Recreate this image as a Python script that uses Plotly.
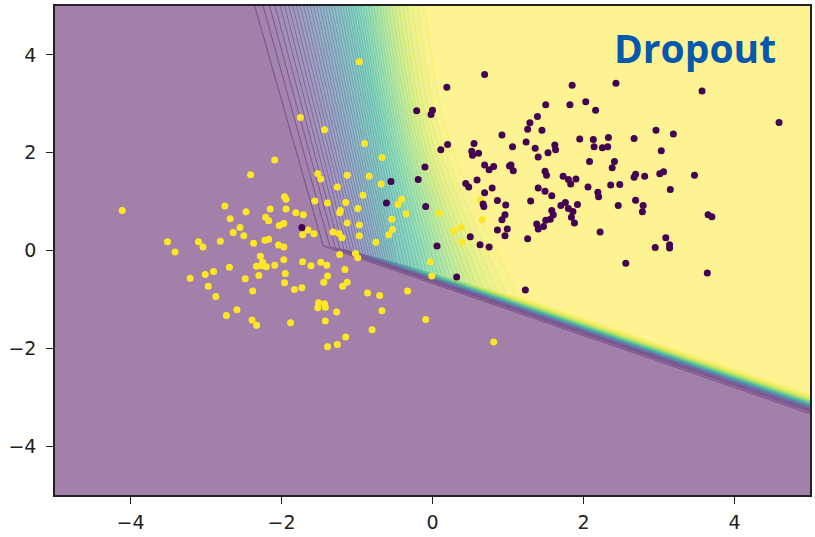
import numpy as np
import plotly.graph_objects as go

# ---------------- data ----------------
yellow_x = [-2.09, -2.41, -4.11, -2.75, -2.47, -2.15, -2.68, -2.21, -2.17, -2.03, -2.55, -2.64, -2.50,
            -3.51, -3.10, -3.04, -2.81, -2.37, -2.22, -2.17, -2.04, -3.41, -2.28, -2.33, -2.26, -2.20,
            -2.25, -2.09, -2.69, -2.90, -3.01, -3.21, -2.48, -2.30, -2.97, -2.38, -2.87, -2.59, -2.73,
            -2.39, -2.33, -0.97, -1.75, -1.43, -0.90, -0.67, -1.52, -1.48, -1.13, -0.84, -1.26, -0.68,
            -0.92, -1.96, -1.94, -1.56, -1.39, -1.15, -0.99, -1.22, -1.23, -1.94, -1.81, -1.71, -1.97,
            -1.13, -0.97, -1.32, -1.24, -1.20, -1.72, -1.65, -1.57, -0.97, -0.75, -1.97, -1.23, -1.02,
            -0.99, -1.97, -1.72, -1.61, -1.48, -1.40, -1.16, -1.95, -1.39, -1.44, -1.96, -1.73, -1.83,
            -1.13, -1.19, -0.86, -0.70, -0.33, -1.51, -1.43, -1.52, -1.42, -1.27, -0.67, -1.88, -1.42,
            -0.09, -0.80, -1.15, -1.39, -1.26, -0.46, -0.41, -0.35, -0.54, -0.53, -0.58, 0.09, -0.03,
            -0.01, 0.63, 0.66, 0.28, 0.38, 0.39, 0.81]
yellow_y = [1.85, 1.55, 0.82, 0.91, 0.79, 0.85, 0.65, 0.68, 0.61, 0.51, 0.47, 0.37, 0.30,
            0.18, 0.18, 0.07, 0.19, 0.15, 0.21, 0.23, 0.11, -0.03, -0.12, -0.32, -0.31, -0.33,
            -0.24, -0.30, -0.34, -0.43, -0.49, -0.57, -0.58, -0.51, -0.73, -0.83, -0.94, -1.21, -1.33,
            -1.42, -1.53, 3.86, 2.72, 2.47, 2.19, 1.90, 1.57, 1.46, 1.54, 1.52, 1.30, 1.36,
            1.13, 1.10, 1.05, 1.01, 0.97, 0.98, 0.86, 0.82, 0.77, 0.85, 0.77, 0.73, 0.55,
            0.56, 0.52, 0.38, 0.35, 0.26, 0.32, 0.42, 0.34, 0.30, 0.17, 0.07, -0.08, -0.06,
            -0.15, -0.19, -0.23, -0.31, -0.24, -0.30, -0.39, -0.47, -0.52, -0.65, -0.66, -0.76, -0.80,
            -0.65, -0.73, -0.87, -0.92, -0.83, -1.07, -1.09, -1.17, -1.16, -1.26, -1.23, -1.48, -1.44,
            -1.41, -1.62, -1.77, -1.97, -1.92, 0.94, 1.05, 0.75, 0.64, 0.43, 0.32, 0.76, -0.23,
            -0.52, 1.04, 0.63, 0.40, 0.47, 0.17, -1.87]

purple_x = [0.19, -0.21, 0.00, -0.02, 0.11, 0.20, -0.10, -0.19, -0.55, -0.61, -0.09, -1.73, 0.06,
            0.69, 0.92, 0.55, 0.52, 0.53, 0.61, 0.69, 0.75, 0.81, 1.02, 0.44, 0.48, 0.59, 0.79,
            0.69, 0.86, 0.97, 0.67, 0.68, 0.96, 0.92, 0.86, 0.99, 0.96, 0.50, 0.63, 0.75, 0.32,
            1.85, 2.43, 1.50, 1.82, 2.03, 2.16, 1.39, 1.29, 1.26, 1.45, 1.24, 1.06, 1.36, 1.62,
            1.63, 1.53, 1.95, 2.13, 2.14, 2.25, 2.32, 2.33, 2.67, 1.40, 2.08, 1.04, 1.07, 1.49,
            1.51, 2.41, 2.38, 1.73, 1.80, 1.83, 1.90, 2.69, 2.67, 2.81, 1.40, 1.49, 1.58, 2.06,
            2.19, 2.20, 2.36, 2.48, 1.30, 1.70, 1.76, 1.80, 1.92, 1.58, 1.60, 1.86, 1.84, 1.50,
            1.56, 1.38, 1.47, 1.40, 1.88, 2.69, 2.46, 2.79, 2.78, 1.26, 2.22, 2.56, 1.23,
            3.57, 4.59, 2.96, 3.19, 3.03, 3.01, 3.06, 3.47, 3.15, 3.65, 3.70, 3.09, 2.95, 3.14,
            3.14, 3.64]
purple_y = [3.34, 2.86, 2.87, 2.78, 2.06, 2.17, 1.71, 1.45, 1.41, 0.97, 0.90, 0.47, 0.09,
            3.60, 2.36, 2.19, 2.03, 1.95, 1.99, 1.75, 1.65, 1.72, 1.73, 1.37, 1.30, 1.44, 1.28,
            1.18, 1.02, 0.93, 0.95, 0.90, 0.73, 0.63, 0.42, 0.44, 0.30, 0.28, 0.12, 0.07, -0.54,
            3.38, 3.42, 2.98, 2.98, 3.04, 2.87, 2.74, 2.61, 2.48, 2.46, 2.22, 2.12, 2.09, 2.16,
            2.06, 2.00, 2.28, 2.27, 2.12, 2.10, 2.12, 2.31, 2.29, 1.91, 1.82, 1.75, 1.63, 1.62,
            1.54, 1.82, 1.69, 1.52, 1.45, 1.36, 1.46, 1.56, 1.50, 1.52, 1.28, 1.21, 1.12, 1.30,
            1.19, 1.10, 1.34, 1.35, 1.01, 0.92, 0.98, 0.86, 0.94, 0.82, 0.73, 0.80, 0.68, 0.62,
            0.64, 0.54, 0.49, 0.44, 0.56, 1.03, 0.92, 0.92, 0.79, 0.24, 0.38, -0.26, -0.81,
            3.26, 2.62, 2.46, 2.38, 2.04, 1.57, 1.61, 1.54, 1.25, 0.73, 0.69, 0.26, 0.06, 0.12,
            0.05, -0.46]

tick_vals = [-4, -2, 0, 2, 4]
tick_text = ["\u22124", "\u22122", "0", "2", "4"]
title_text = "Dropout"

# decision-surface parameters of the fitted classifier
mid_top, mid_tilt = -1.15, 0.13          # p = 0.5 line: x at y = 5, shift per unit of y below 5
wd_top, wd_rate = 1.47, -0.067           # half-width of the soft transition, purple side
wy_top, wy_rate = 1.28, -0.066           # half-width of the soft transition, yellow side
wy_bend_y, wy_bend_rate = 2.4, 0.286     # yellow side widens below this height
k_sharp0, k_sharp_slope = 24.0, -0.8     # steepness of the lower boundary
b_slope, b_icpt = 0.526, 0.511           # lower boundary line y = -0.526 x - 0.511

viridis = ["#440154", "#482475", "#414487", "#355f8d", "#2a788e", "#21918c",
           "#22a884", "#44bf70", "#7ad151", "#bddf26", "#fde725"]

# ---------------- figure ----------------
def blend(hexc, w):
    h = hexc.lstrip("#")
    r, g, b = (int(h[i:i + 2], 16) for i in (0, 2, 4))
    r, g, b = (round(c * (1 - w) + 255 * w) for c in (r, g, b))
    return f"rgb({r},{g},{b})"

n = len(viridis)
fill_scale = [[i / (n - 1), blend(c, 0.5)] for i, c in enumerate(viridis)]
line_scale = [[i / (n - 1), blend(c, 0.22)] for i, c in enumerate(viridis)]

gx = np.linspace(-5, 5, 401)
gy = np.linspace(-5, 5, 401)
X, Y = np.meshgrid(gx, gy)
below = 5.0 - Y
d = X - (mid_top + mid_tilt * below)
wd = wd_top + wd_rate * below
soft_bend = 0.6 * np.log1p(np.exp((wy_bend_y - Y) / 0.6))
wy = wy_top + wy_rate * below + wy_bend_rate * soft_bend
u = np.where(d < 0, d / wd, d / wy)
p_soft = 0.5 + 0.5 * np.sin(np.pi / 2 * np.clip(u, -1, 1))
L2 = (k_sharp0 + k_sharp_slope * X) * (Y + b_slope * X + b_icpt)
p_sharp = 1.0 / (1.0 + np.exp(-L2))
P = np.round(np.minimum(p_soft, p_sharp), 4)

levels = dict(start=0.02, end=0.98, size=0.02)

fig = go.Figure()
fig.add_trace(go.Contour(x=gx, y=gy, z=P, colorscale=fill_scale, zmin=0, zmax=1,
                         contours=dict(**levels, coloring="fill"),
                         line=dict(width=0), showscale=False, hoverinfo="skip"))
fig.add_trace(go.Contour(x=gx, y=gy, z=P, colorscale=line_scale, zmin=0, zmax=1,
                         contours=dict(**levels, coloring="lines"),
                         line=dict(width=0.8), showscale=False, hoverinfo="skip"))
fig.add_trace(go.Scatter(x=yellow_x, y=yellow_y, mode="markers",
                         marker=dict(size=7, color="#fde725", line=dict(width=0)),
                         showlegend=False))
fig.add_trace(go.Scatter(x=purple_x, y=purple_y, mode="markers",
                         marker=dict(size=7, color="#440154", line=dict(width=0)),
                         showlegend=False))

axis_common = dict(range=[-5, 5], showgrid=False, zeroline=False, showline=True,
                   linecolor="#222222", linewidth=1.5, mirror=True, automargin=False,
                   ticks="outside", ticklen=7, tickwidth=1.3, tickcolor="#222222",
                   tickvals=tick_vals, ticktext=tick_text,
                   tickfont=dict(family="DejaVu Sans", size=19, color="#222222"))
fig.update_xaxes(**axis_common, ticklabelstandoff=2)
fig.update_yaxes(**axis_common, ticklabelstandoff=6)

fig.add_annotation(text=f"<b>{title_text}</b>", xref="paper", yref="paper",
                   x=0.958, y=0.916, xanchor="right", yanchor="middle", showarrow=False,
                   font=dict(family="Open Sans", size=39, color="#0558ab"))

fig.update_layout(width=815, height=537, margin=dict(l=55, r=5, t=6, b=42),
                  paper_bgcolor="white", plot_bgcolor="white", showlegend=False)

fig.write_html("out.html")
